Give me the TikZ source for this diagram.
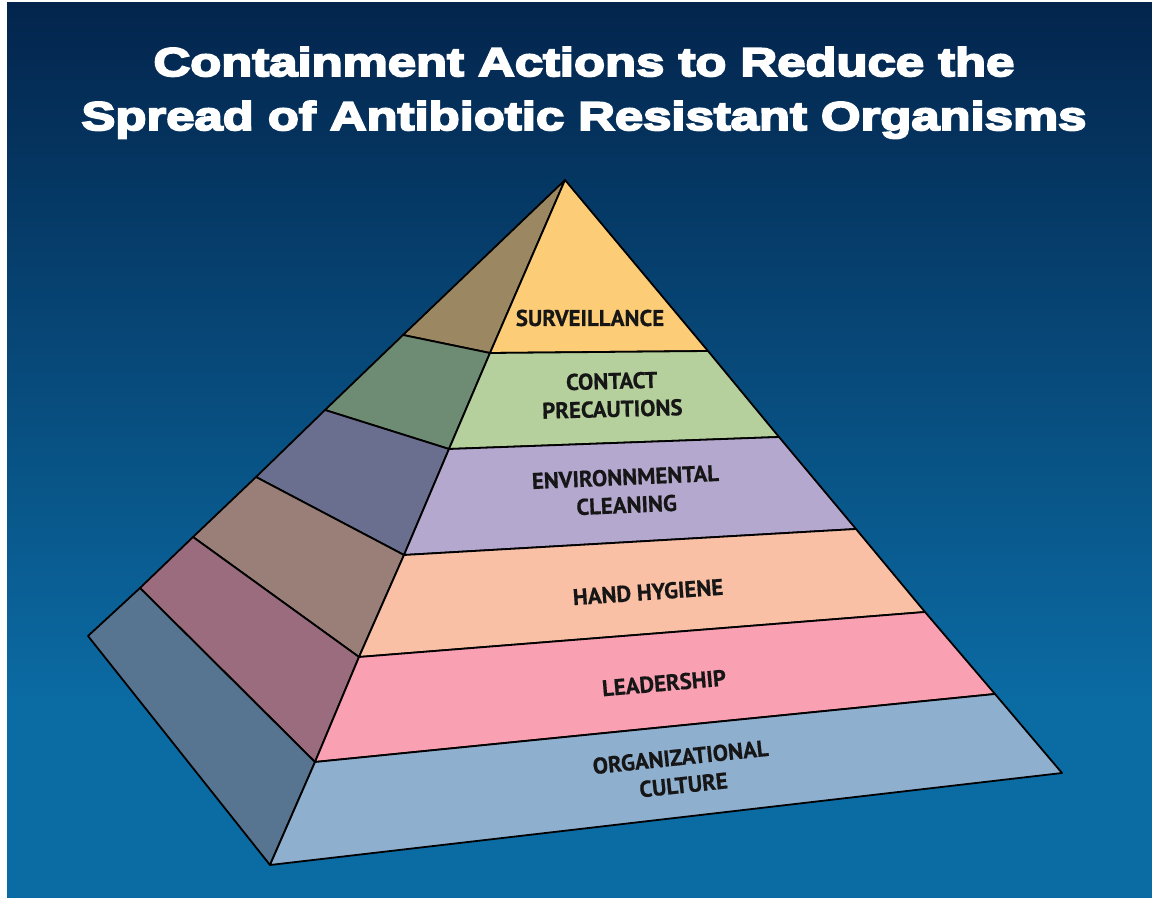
\documentclass[tikz,border=0pt]{standalone}
\usepackage{fontspec}
\newfontfamily\titlefont[FakeStretch=1.27,FakeBold=5]{Liberation Sans}
\newfontfamily\labelfont[FakeBold=0.6]{PT Sans}
\definecolor{bgtop}{HTML}{03254D}
\definecolor{bgbot}{HTML}{0B6BA3}
\definecolor{sF}{HTML}{FCCD76}
\definecolor{sL}{HTML}{9B8862}
\definecolor{cF}{HTML}{B5D09D}
\definecolor{cL}{HTML}{6E8B73}
\definecolor{eF}{HTML}{B5A8CE}
\definecolor{eL}{HTML}{6B6F8F}
\definecolor{hF}{HTML}{F9C0A6}
\definecolor{hL}{HTML}{9A7F79}
\definecolor{lF}{HTML}{F9A1B2}
\definecolor{lL}{HTML}{9A6C7E}
\definecolor{oF}{HTML}{8FAFCF}
\definecolor{oL}{HTML}{577490}
\definecolor{labeltext}{HTML}{161616}
\begin{document}
\begin{tikzpicture}[x=0.5pt,y=-0.5pt,
  face/.style={draw=black, line width=0.9pt, line join=round},
  lbl/.style={font=\labelfont\bfseries\fontsize{11.4pt}{14pt}\selectfont, text=labeltext, align=center, inner sep=0pt},
  ttl/.style={font=\titlefont\bfseries\fontsize{20pt}{24pt}\selectfont, text=white, anchor=base, inner sep=0pt}]
\useasboundingbox (0,0) rectangle (1152,898);
\fill[white] (0,0) rectangle (1152,898);
\shade[top color=bgtop, bottom color=bgbot] (7,3) rectangle (1152,701);
\fill[bgbot] (7,700) rectangle (1152,898);
% title
\node[ttl] (t1) at (584,76) {Containment Actions to Reduce the};
\node[ttl] (t2) at (584,130) {Spread of Antibiotic Resistant Organisms};
% pyramid points
\coordinate (A) at (565,180);
\coordinate (L1) at (490,353);
\coordinate (L2) at (449,449);
\coordinate (L3) at (404,555);
\coordinate (L4) at (359,657);
\coordinate (L5) at (315,762);
\coordinate (L6) at (270,865);
\coordinate (R1) at (708,351);
\coordinate (R2) at (779,437);
\coordinate (R3) at (856,529);
\coordinate (R4) at (925,612);
\coordinate (R5) at (995,694);
\coordinate (R6) at (1062,773);
\coordinate (B1) at (403,335);
\coordinate (B2) at (325,410);
\coordinate (B3) at (256,477);
\coordinate (B4) at (193,537);
\coordinate (B5) at (140,588);
\coordinate (B6) at (88,636);
% left faces
\path[face, fill=sL] (A) -- (L1) -- (B1) -- cycle;
\path[face, fill=cL] (B1) -- (L1) -- (L2) -- (B2) -- cycle;
\path[face, fill=eL] (B2) -- (L2) -- (L3) -- (B3) -- cycle;
\path[face, fill=hL] (B3) -- (L3) -- (L4) -- (B4) -- cycle;
\path[face, fill=lL] (B4) -- (L4) -- (L5) -- (B5) -- cycle;
\path[face, fill=oL] (B5) -- (L5) -- (L6) -- (B6) -- cycle;
% front faces
\path[face, fill=sF] (A) -- (R1) -- (L1) -- cycle;
\path[face, fill=cF] (L1) -- (R1) -- (R2) -- (L2) -- cycle;
\path[face, fill=eF] (L2) -- (R2) -- (R3) -- (L3) -- cycle;
\path[face, fill=hF] (L3) -- (R3) -- (R4) -- (L4) -- cycle;
\path[face, fill=lF] (L4) -- (R4) -- (R5) -- (L5) -- cycle;
\path[face, fill=oF] (L5) -- (R5) -- (R6) -- (L6) -- cycle;
% labels
\node[lbl] (surv) at (590,318) {SURVEILLANCE};
\node[lbl, rotate=1.5] (cont) at (612,395) {CONTACT\\PRECAUTIONS};
\node[lbl, rotate=2.5] (env) at (626,491) {ENVIRONNMENTAL\\CLEANING};
\node[lbl, rotate=4] (hand) at (648,592) {HAND HYGIENE};
\node[lbl, rotate=5] (lead) at (664,683) {LEADERSHIP};
\node[lbl, rotate=6] (org) at (682,771) {ORGANIZATIONAL\\CULTURE};
\end{tikzpicture}
\end{document}
